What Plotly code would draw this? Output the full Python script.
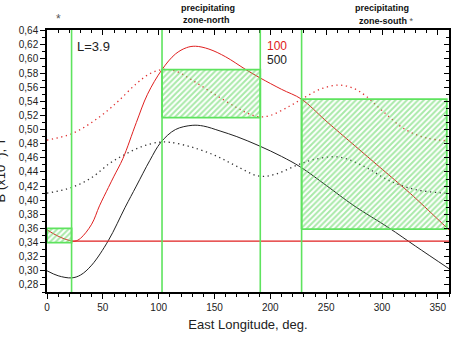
import plotly.graph_objects as go

# ---- data ----
red_x = [0, 10, 20, 25, 30, 40, 47, 55, 60, 68, 80, 90, 103, 115, 125, 133, 145, 160, 178, 191, 210, 228, 250, 275, 300, 325, 350, 360]
red_y = [0.358, 0.349, 0.343, 0.342, 0.346, 0.366, 0.392, 0.418, 0.434, 0.459, 0.51, 0.55, 0.585, 0.607, 0.616, 0.618, 0.614, 0.603, 0.585, 0.573, 0.557, 0.543, 0.512, 0.478, 0.444, 0.410, 0.373, 0.358]

red_dot_x = [0, 22, 40, 55, 65, 80, 92, 103, 115, 130, 150, 170, 180, 190, 200, 217, 230, 246, 262, 275, 286, 300, 321, 340, 360]
red_dot_y = [0.485, 0.494, 0.51, 0.528, 0.542, 0.565, 0.579, 0.585, 0.583, 0.57, 0.55, 0.531, 0.523, 0.518, 0.52, 0.533, 0.545, 0.558, 0.563, 0.558, 0.547, 0.527, 0.5, 0.488, 0.484]

blk_x = [0, 10, 22, 30, 40, 55, 70, 80, 92, 102, 115, 130, 140, 155, 170, 190, 210, 227, 250, 275, 306, 330, 360]
blk_y = [0.300, 0.293, 0.290, 0.294, 0.308, 0.343, 0.39, 0.42, 0.456, 0.482, 0.5, 0.506, 0.505, 0.498, 0.49, 0.477, 0.462, 0.447, 0.421, 0.392, 0.361, 0.335, 0.303]

blk_dot_x = [0, 22, 40, 56, 70, 85, 100, 110, 130, 151, 170, 190, 205, 223, 240, 262, 285, 306, 330, 357, 360]
blk_dot_y = [0.41, 0.418, 0.432, 0.452, 0.465, 0.476, 0.482, 0.482, 0.475, 0.463, 0.448, 0.434, 0.437, 0.449, 0.458, 0.461, 0.447, 0.428, 0.415, 0.41, 0.41]

level_x = [22, 360]
level_y = [0.342, 0.342]

zone_lines = [22, 103, 191, 228]

box_x0 = [0, 103, 228]
box_x1 = [22, 191, 358]
box_y0 = [0.340, 0.517, 0.359]
box_y1 = [0.360, 0.585, 0.543]

x_ticks = [0, 50, 100, 150, 200, 250, 300, 350]
y_ticks = [round(0.28 + 0.02 * i, 2) for i in range(19)]
y_tick_text = [f"{v:.2f}".replace(".", ",") for v in y_ticks]

GREEN = "#5ee35e"
FONT = "Liberation Sans, Arial, sans-serif"

fig = go.Figure()

fig.add_trace(go.Scatter(x=red_dot_x, y=red_dot_y, mode="lines", line=dict(color="#e03030", width=1.3, dash="1.3px,3.5px", shape="spline")))
fig.add_trace(go.Scatter(x=blk_dot_x, y=blk_dot_y, mode="lines", line=dict(color="#333333", width=1.3, dash="1.3px,3.5px", shape="spline")))
fig.add_trace(go.Scatter(x=red_x, y=red_y, mode="lines", line=dict(color="#e02020", width=1.0, shape="spline")))
fig.add_trace(go.Scatter(x=blk_x, y=blk_y, mode="lines", line=dict(color="#222222", width=1.0, shape="spline")))
fig.add_trace(go.Scatter(x=level_x, y=level_y, mode="lines", line=dict(color="#e02020", width=1.1)))

for x0, x1, y0, y1 in zip(box_x0, box_x1, box_y0, box_y1):
    fig.add_trace(go.Scatter(
        x=[x0, x1, x1, x0, x0], y=[y0, y0, y1, y1, y0], mode="lines",
        fill="toself", fillcolor="rgba(0,0,0,0)",
        fillpattern=dict(shape="/", fgcolor="#52d452", bgcolor="rgba(0,0,0,0)", size=4, solidity=0.5),
        line=dict(color=GREEN, width=1.8)))

for zx in zone_lines:
    fig.add_shape(type="line", x0=zx, x1=zx, y0=0, y1=1, xref="x", yref="paper",
                  line=dict(color=GREEN, width=1.6))

axis_common = dict(showline=True, linecolor="black", linewidth=1.5, showgrid=False, zeroline=False,
                   ticklen=5, tickwidth=1.2, tickcolor="black",
                   tickfont=dict(family=FONT, size=10, color="#222"))

fig.update_layout(
    width=456, height=337,
    margin=dict(l=47, r=7, t=30, b=42),
    plot_bgcolor="white", paper_bgcolor="white",
    showlegend=False,
    font=dict(family=FONT),
    xaxis=dict(range=[0, 360], tickmode="array", tickvals=x_ticks,
               ticks="outside", minor=dict(dtick=10, ticks="outside", ticklen=3, tickcolor="black"),
               title=dict(text="East Longitude, deg.", font=dict(family=FONT, size=13, color="#222"), standoff=8),
               **axis_common),
    yaxis=dict(range=[0.27, 0.641], tickmode="array", tickvals=y_ticks, ticktext=y_tick_text,
               ticks="outside", minor=dict(dtick=0.01, tick0=0.27, ticks="outside", ticklen=3, tickcolor="black"),
               **axis_common),
    xaxis2=dict(range=[0, 360], overlaying="x", side="top", showticklabels=False,
                tickmode="array", tickvals=x_ticks,
                ticks="inside", minor=dict(dtick=10, ticks="inside", ticklen=3, tickcolor="black"),
                **axis_common),
    yaxis2=dict(range=[0.27, 0.641], overlaying="y", side="right", showticklabels=False,
                tickmode="array", tickvals=y_ticks,
                ticks="inside", minor=dict(dtick=0.01, tick0=0.27, ticks="inside", ticklen=3, tickcolor="black"),
                **axis_common),
)
# invisible trace to activate the mirrored (inside-tick) axes
fig.add_trace(go.Scatter(x=[0], y=[0.2], xaxis="x2", yaxis="y2", mode="markers", marker=dict(opacity=0), hoverinfo="skip"))

fig.add_annotation(text="L=3.9", x=25, y=0.617, xref="x", yref="y", xanchor="left", yanchor="middle",
                   showarrow=False, font=dict(family=FONT, size=13, color="#222"))
fig.add_annotation(text="100", x=195, y=0.619, xref="x", yref="y", xanchor="left", yanchor="middle",
                   showarrow=False, font=dict(family=FONT, size=12, color="#e02020"))
fig.add_annotation(text="500", x=195, y=0.598, xref="x", yref="y", xanchor="left", yanchor="middle",
                   showarrow=False, font=dict(family=FONT, size=12, color="#222"))

def pap_x(px):
    return (px - 47) / (449 - 47)

def pap_y(py):
    return (295 - py) / (295 - 30)

def top_text(text, px, py, size=9, color="#111"):
    fig.add_annotation(text=text, x=pap_x(px), y=pap_y(py), xref="paper", yref="paper",
                       xanchor="center", yanchor="middle", showarrow=False,
                       font=dict(family=FONT, size=size, color=color))

top_text("*", 58, 19, size=12, color="#555")
top_text("<b>precipitating</b>", 208, 8)
top_text("<b>zone-north</b>", 206, 20)
top_text("<b>precipitating</b>", 382, 8)
top_text("<b>zone-south</b> <span style='color:#555'>*</span>", 386, 21)

fig.add_annotation(text="B (x10<sup>-4</sup>), T", x=pap_x(10), y=pap_y(172), xref="paper", yref="paper",
                   xanchor="right", yanchor="middle", showarrow=False, textangle=-90,
                   font=dict(family=FONT, size=13, color="#222"))

fig.write_html("out.html")
